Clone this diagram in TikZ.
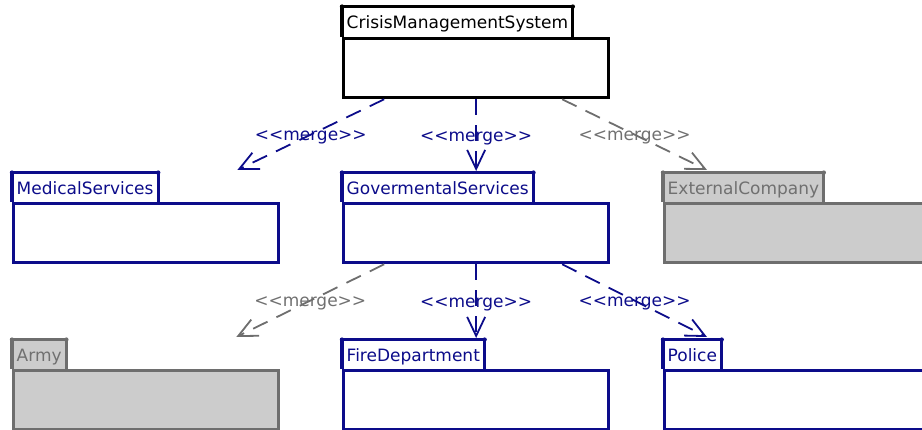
\documentclass[tikz,border=0pt]{standalone}
\usepackage{fontspec}
\setmainfont{DejaVu Sans}
\usetikzlibrary{arrows.meta}

\definecolor{pkgblue}{RGB}{12,12,138}
\definecolor{pkggrey}{RGB}{110,110,110}
\definecolor{pkgfill}{RGB}{204,204,204}
\definecolor{pkgtext}{RGB}{112,112,112}

\tikzset{
  pkgbody/.style={draw, line width=3.3pt, rectangle, inner sep=0pt,
    minimum width=265pt, minimum height=59pt, anchor=north west},
  pkgtab/.style={anchor=south west, inner xsep=4.5pt, inner ysep=0pt,
    minimum height=29pt, text height=14pt, text depth=0pt,
    font=\fontsize{17}{20}\selectfont},
  activepkg/.style={color=pkgblue, fill=white},
  rootpkg/.style={color=black, fill=white},
  extpkg/.style={color=pkggrey, fill=pkgfill},
  merge/.style={line width=1.8pt, dash pattern=on 16pt off 10pt,
    -{Straight Barb[length=19pt,width=18pt]}},
  mergelabel/.style={midway, inner sep=0pt, text height=12pt, text depth=0pt,
    font=\fontsize{17}{20}\selectfont}
}

% folder tab: left, top and right sides of the tab node
\newcommand\tabedge[2]{%
  \draw[#2, line width=3.3pt] (#1.south west) -- (#1.north west)
    -- (#1.north east) -- (#1.south east);
  \fill[#2] (#1.north west) circle (2.2pt) (#1.north east) circle (2.2pt);}

\begin{document}
\begin{tikzpicture}[x=1pt, y=-1pt]
\useasboundingbox (0,0) rectangle (922,430);
\clip (0,0) rectangle (922,430);

% package bodies
\node[pkgbody, rootpkg]   (cms)    at (342,37)  {};
\node[pkgbody, activepkg] (med)    at (12,202)  {};
\node[pkgbody, activepkg] (gov)    at (342,202) {};
\node[pkgbody, extpkg]    (ext)    at (663,202) {};
\node[pkgbody, extpkg]    (army)   at (12,369)  {};
\node[pkgbody, activepkg] (fire)   at (342,369) {};
\node[pkgbody, activepkg] (police) at (663,369) {};

% package tabs with names
\node[pkgtab, fill=white, text=black, minimum height=30pt] (tcms) at (cms.north west) {CrisisManagementSystem};
\tabedge{tcms}{black}
\node[pkgtab, fill=white, text=pkgblue] (tmed) at (med.north west) {MedicalServices};
\tabedge{tmed}{pkgblue}
\node[pkgtab, fill=white, text=pkgblue] (tgov) at (gov.north west) {GovermentalServices};
\tabedge{tgov}{pkgblue}
\node[pkgtab, fill=pkgfill, text=pkgtext] (text) at (ext.north west) {ExternalCompany};
\tabedge{text}{pkggrey}
\node[pkgtab, fill=pkgfill, text=pkgtext] (tarmy) at (army.north west) {Army};
\tabedge{tarmy}{pkggrey}
\node[pkgtab, fill=white, text=pkgblue] (tfire) at (fire.north west) {FireDepartment};
\tabedge{tfire}{pkgblue}
\node[pkgtab, fill=white, text=pkgblue] (tpolice) at (police.north west) {Police};
\tabedge{tpolice}{pkgblue}

% merge dependencies
\draw[merge, pkgblue] ([xshift=-92pt]cms.south) -- ([xshift=-43pt,yshift=32pt]med.north east)
  node[mergelabel] {<{}<merge>{}>};
\draw[merge, pkgblue] (cms.south) -- ([yshift=31pt]gov.north)
  node[mergelabel] {<{}<merge>{}>};
\draw[merge, pkggrey] ([xshift=86pt]cms.south) -- ([xshift=44pt,yshift=32pt]ext.north west)
  node[mergelabel, text=pkgtext] {<{}<merge>{}>};
\draw[merge, pkggrey] ([xshift=-92pt]gov.south) -- ([xshift=-44pt,yshift=32pt]army.north east)
  node[mergelabel, text=pkgtext] {<{}<merge>{}>};
\draw[merge, pkgblue] (gov.south) -- ([yshift=31pt]fire.north)
  node[mergelabel] {<{}<merge>{}>};
\draw[merge, pkgblue] ([xshift=86pt]gov.south) -- ([xshift=44pt,yshift=32pt]police.north west)
  node[mergelabel] {<{}<merge>{}>};
\end{tikzpicture}
\end{document}
